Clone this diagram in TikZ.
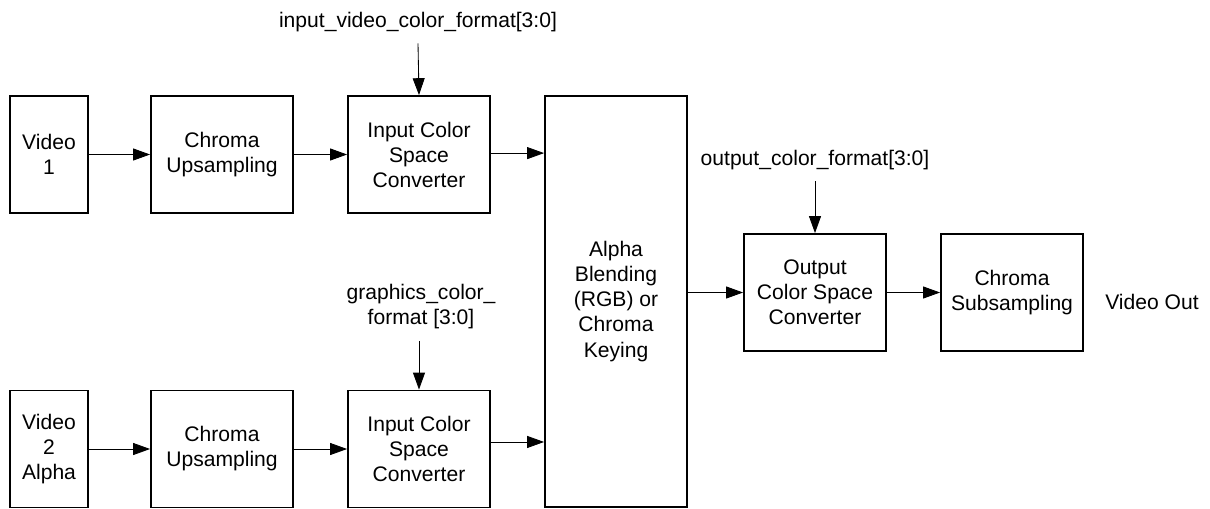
\documentclass[tikz,border=0pt]{standalone}
\usepackage{fontspec}
\setmainfont{Liberation Sans}
\usetikzlibrary{arrows.meta,positioning,calc}

\begin{document}
\begin{tikzpicture}[
  x=0.025cm, y=-0.025cm,
  font=\fontsize{15}{17.8}\selectfont,
  blk/.style={draw=black, line width=1.3pt, fill=white, align=center,
              inner sep=2pt, minimum width=3.55cm, minimum height=2.925cm},
  src/.style={blk, minimum width=1.95cm},
  tall/.style={blk, minimum height=10.275cm},
  lbl/.style={align=center, inner sep=2pt},
  arr/.style={-{Triangle[length=12pt, width=8.5pt]}, line width=0.6pt},
]
\useasboundingbox (0,0) rectangle (1210,508);

% ---------------- upper path -------------------------------------------
\node[src] (vid1) at (49,154.5) {Video\\1};
\node[blk] (up1) at (222,154.5) {Chroma\\Upsampling};
\node[blk] (icsc1) at (419,154.5) {Input Color\\Space\\Converter};

% ---------------- lower path -------------------------------------------
\node[src] (vid2) at (49,449) {Video\\2\\Alpha};
\node[blk] (up2) at (222,449) {Chroma\\Upsampling};
\node[blk] (icsc2) at (419,449) {Input Color\\Space\\Converter};

% ---------------- blending and output ----------------------------------
\node[tall] (blend) at (616,301.5) {Alpha\\Blending\\(RGB) or\\Chroma\\Keying};
\node[blk] (ocsc) at (815,292.5) {Output\\Color Space\\Converter};
\node[blk] (csub) at (1012,292.5) {Chroma\\Subsampling};
\node[lbl] (vout) at (1152,302) {Video Out};

% ---------------- control inputs ---------------------------------------
\node[lbl] (invf) at (418,22) {input\_video\_color\_format[3:0]};
\node[lbl] (gcf) at (421,307) {graphics\_color\_\\format [3:0]};
\node[lbl] (ocf) at (815,160) {output\_color\_format[3:0]};

% ---------------- flow -------------------------------------------------
\draw[arr] (vid1.east) -- (up1.west);
\draw[arr] (up1.east) -- (icsc1.west);
\draw[arr] ([yshift=1pt]icsc1.east) -- ([yshift=1pt]icsc1.east -| blend.west);
\draw[arr] (vid2.east) -- (up2.west);
\draw[arr] (up2.east) -- (icsc2.west);
\draw[arr] ([yshift=5pt]icsc2.east) -- ([yshift=5pt]icsc2.east -| blend.west);
\draw[arr] (ocsc.west -| blend.east) -- (ocsc.west);
\draw[arr] (ocsc.east) -- (csub.west);

\draw[arr] ([yshift=-6pt]invf.south) -- (icsc1.north);
\draw[arr] ([yshift=-6pt]gcf.south -| icsc2.north) -- (icsc2.north);
\draw[arr] ([yshift=-6pt]ocf.south) -- (ocsc.north);

\end{tikzpicture}
\end{document}
